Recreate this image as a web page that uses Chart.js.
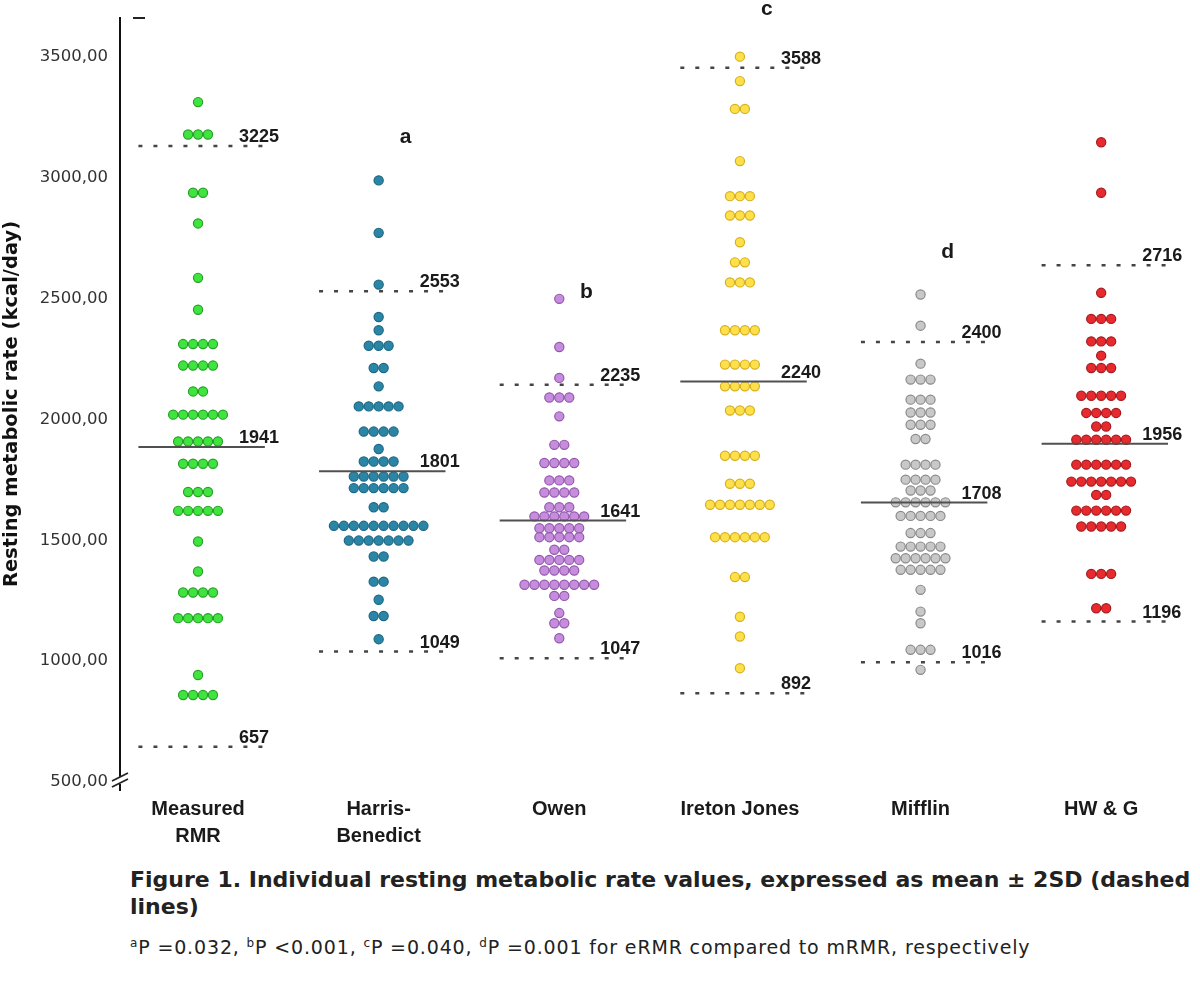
<!DOCTYPE html>
<html>
<head>
<meta charset="utf-8">
<script src="https://cdn.jsdelivr.net/npm/chart.js@4.4.1/dist/chart.umd.min.js"></script>
<style>
  body { margin: 0; background: #fff; width: 1200px; height: 983px; overflow: hidden; position: relative; }
  #wrap { position: absolute; left: 0; top: 0; width: 1200px; height: 860px; }
  .caption { position: absolute; left: 130px; top: 866px; font: bold 22px "DejaVu Sans"; color: #222; white-space: nowrap; line-height: 27px; }
  .note { position: absolute; left: 130px; top: 936px; font: 19px "DejaVu Sans"; letter-spacing: 0.85px; color: #222; white-space: nowrap; }
  .note sup { font-size: 12px; }
</style>
</head>
<body>
<div id="wrap"><canvas id="chart"></canvas></div>
<div class="caption">Figure 1. Individual resting metabolic rate values, expressed as mean ± 2SD (dashed<br>lines)</div>
<div class="note"><sup>a</sup>P =0.032, <sup>b</sup>P &lt;0.001, <sup>c</sup>P =0.040, <sup>d</sup>P =0.001 for eRMR compared to mRMR, respectively</div>
<script>
const categories = ['Measured RMR', 'Harris-Benedict', 'Owen', 'Ireton Jones', 'Mifflin', 'HW & G'];
const categoryLines = [['Measured', 'RMR'], ['Harris-', 'Benedict'], ['Owen'], ['Ireton Jones'], ['Mifflin'], ['HW & G']];

// each row: [RMR value, number of subjects stacked side by side at that value]
const measuredRMR = [[3313,1],[3179,3],[2938,2],[2811,1],[2586,1],[2454,1],[2312,4],[2223,4],[2116,2],[2020,6],
  [1909,5],[1817,4],[1700,3],[1622,5],[1495,1],[1371,1],[1284,4],[1178,5],[943,1],[860,4]];
const harrisBenedict = [[2989,1],[2772,1],[2558,1],[2424,1],[2369,1],[2305,3],[2213,2],[2137,1],[2054,5],[1950,4],
  [1878,1],[1826,4],[1764,6],[1716,6],[1637,2],[1560,10],[1499,7],[1433,2],[1329,2],[1254,1],[1187,2],[1091,1]];
const owen = [[2499,1],[2300,1],[2172,1],[2091,3],[2013,1],[1895,2],[1820,4],[1748,3],[1698,4],[1637,3],[1599,6],
  [1550,5],[1513,5],[1461,2],[1419,5],[1375,4],[1316,8],[1270,2],[1199,1],[1157,2],[1095,1]];
const iretonJones = [[3501,1],[3400,1],[3285,2],[3069,1],[2924,3],[2844,3],[2733,1],[2650,2],[2567,3],[2369,4],
  [2227,4],[2137,4],[2037,3],[1850,4],[1734,3],[1647,7],[1513,6],[1348,2],[1184,1],[1102,1],[971,1]];
const mifflin = [[2517,1],[2388,1],[2231,1],[2165,3],[2082,3],[2029,3],[1978,3],[1919,2],[1813,4],[1751,4],[1706,3],
  [1657,6],[1601,5],[1530,3],[1474,5],[1426,6],[1378,5],[1295,1],[1205,1],[1157,1],[1047,3],[964,1]];
const hwg = [[3147,1],[2938,1],[2524,1],[2416,3],[2323,3],[2264,1],[2213,3],[2098,5],[2027,4],[1971,2],[1916,6],
  [1813,6],[1743,7],[1688,2],[1623,6],[1557,5],[1361,3],[1219,2]];
const allRows = [measuredRMR, harrisBenedict, owen, iretonJones, mifflin, hwg];

// printed mean and +-2SD labels
const meanText = [1941, 1801, 1641, 2240, 1708, 1956];
const upperText = [3225, 2553, 2235, 3588, 2400, 2716];
const lowerText = [657, 1049, 1047, 892, 1016, 1196];
// where those lines sit against the axis
const meanLine = [1886, 1786, 1582, 2157, 1656, 1900];
const upperLine = [3131, 2530, 2144, 3455, 2321, 2638];
const lowerLine = [646, 1040, 1012, 867, 996, 1164];

const sigLetters = ['', 'a', 'b', 'c', 'd', ''];
const letterLevel = [0, 3167, 2525, 3697, 2690, 0];

const yTicks = [500, 1000, 1500, 2000, 2500, 3000, 3500];

const fills = ['#3fe43f', '#2b86a6', '#c58ddb', '#fde04a', '#c8c8c8', '#e62a2e'];
const edges = ['#26a226', '#1d6886', '#9358ae', '#d8b01e', '#8a8a8a', '#a81a1e'];

const X_MIN = -0.432, X_MAX = 5.515;
const unit = 1080 / (X_MAX - X_MIN);   // pixels per category
const dotStep = 10 / unit;

const datasets = [];
allRows.forEach((rows, g) => {
    let pts = [];
    rows.forEach(([v, n]) => {
        for (let k = 0; k < n; k++) pts.push({x: g + (k - (n - 1) / 2) * dotStep, y: v});
    });
    datasets.push({
        data: pts,
        backgroundColor: fills[g],
        borderColor: edges[g],
        borderWidth: 1.2,
        pointRadius: 4.6,
        order: 1
    });
});

function segment(g, y, dashed) {
    return {
        data: [{x: g - 0.33, y: y}, {x: g + 0.37, y: y}],
        showLine: true,
        borderColor: dashed ? '#454545' : '#505050',
        borderWidth: dashed ? 2.5 : 2,
        borderDash: dashed ? [4, 11] : [],
        pointRadius: 0,
        order: dashed ? 2 : 0
    };
}
categories.forEach((c, g) => {
    datasets.push(segment(g, upperLine[g], true));
    datasets.push(segment(g, lowerLine[g], true));
    datasets.push(segment(g, meanLine[g], false));
});

const annotate = {
    id: 'annotate',
    afterDraw(chart) {
        const {ctx, chartArea, scales: {x, y}} = chart;
        ctx.save();
        ctx.fillStyle = '#1a1a1a';
        ctx.textAlign = 'left';
        ctx.textBaseline = 'alphabetic';
        ctx.font = 'bold 18px "Liberation Sans"';
        categories.forEach((c, g) => {
            let px = x.getPixelForValue(g) + 41;
            ctx.fillText(String(upperText[g]), px, y.getPixelForValue(upperLine[g]) - 4);
            ctx.fillText(String(meanText[g]), px, y.getPixelForValue(meanLine[g]) - 4);
            ctx.fillText(String(lowerText[g]), px, y.getPixelForValue(lowerLine[g]) - 4);
        });
        ctx.font = 'bold 21px "Liberation Sans"';
        ctx.textAlign = 'center';
        ctx.textBaseline = 'middle';
        categories.forEach((c, g) => {
            if (sigLetters[g]) ctx.fillText(sigLetters[g], x.getPixelForValue(g) + 27, y.getPixelForValue(letterLevel[g]));
        });

        // small mark at the top of the axis
        let left = chartArea.left;
        ctx.strokeStyle = '#222';
        ctx.lineWidth = 2;
        ctx.beginPath();
        ctx.moveTo(left + 13, chartArea.top);
        ctx.lineTo(left + 25, chartArea.top);
        ctx.stroke();

        // axis break
        let b = chartArea.bottom - 8;
        ctx.fillStyle = '#fff';
        ctx.fillRect(left - 4, b - 5, 8, 7);
        ctx.lineWidth = 1.8;
        ctx.beginPath();
        ctx.moveTo(left - 8, b - 1); ctx.lineTo(left + 8, b - 9);
        ctx.moveTo(left - 8, b + 5); ctx.lineTo(left + 8, b - 3);
        ctx.stroke();
        ctx.restore();
    }
};

new Chart(document.getElementById('chart'), {
    type: 'scatter',
    data: {datasets: datasets},
    options: {
        responsive: true,
        maintainAspectRatio: false,
        animation: false,
        devicePixelRatio: 1,
        layout: {padding: {top: 18, left: 0, right: 0, bottom: 0}},
        plugins: {legend: {display: false}, tooltip: {enabled: false}},
        scales: {
            x: {
                type: 'linear',
                min: X_MIN,
                max: X_MAX,
                grid: {display: false},
                border: {display: false},
                afterBuildTicks: s => { s.ticks = categories.map((c, i) => ({value: i})); },
                afterFit: s => { s.height = 70; },
                ticks: {
                    padding: -2,
                    color: '#1a1a1a',
                    font: {family: 'Liberation Sans', size: 20, weight: 'bold', lineHeight: 1.35},
                    maxRotation: 0,
                    autoSkip: false,
                    callback: v => categoryLines[v]
                }
            },
            y: {
                min: 467,
                max: 3661,
                grid: {display: false},
                border: {display: true, color: '#111', width: 2},
                afterBuildTicks: s => { s.ticks = yTicks.map(v => ({value: v})); },
                afterFit: s => { s.width = 120; },
                ticks: {
                    padding: 4,
                    color: '#333',
                    font: {family: 'DejaVu Sans', size: 16.5},
                    callback: v => v.toFixed(2).replace('.', ',')
                },
                title: {
                    display: true,
                    text: 'Resting metabolic rate (kcal/day)',
                    color: '#111',
                    font: {family: 'DejaVu Sans', size: 19.5, weight: 'bold'},
                    padding: {top: 0, bottom: 0}
                }
            }
        }
    },
    plugins: [annotate]
});
</script>
</body>
</html>
